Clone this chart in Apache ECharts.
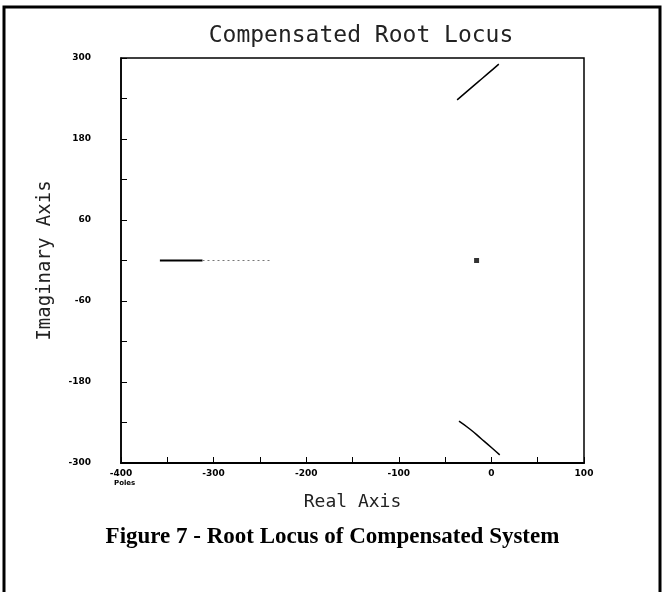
<!DOCTYPE html>
<html>
<head>
<meta charset="utf-8">
<script src="https://cdn.jsdelivr.net/npm/echarts@6/dist/echarts.min.js"></script>
<style>
html,body{margin:0;padding:0;background:#fff;}
#c{width:665px;height:592px;}
</style>
</head>
<body>
<div id="c"></div>
<script>
// ---- data ----
var xTicks = [-400, -300, -200, -100, 0, 100];
var yTicks = [-300, -180, -60, 60, 180, 300];
var realAxisSolid = [[-358, 0], [-312, 0]];
var realAxisDotted = [[-312, 0], [-238, 0]];
var upperBranch = [[-37, 238], [-26, 251], [-14, 265], [-2, 279], [8, 291]];
var lowerBranch = [[-35, -238], [-23, -250], [-11, -264], [0, -277], [9, -288]];
var poleMarker = [[-16, 0]];

var chart = echarts.init(document.getElementById('c'), null, {renderer: 'canvas'});
var tickFont = {fontFamily: 'DejaVu Sans', fontSize: 9, fontWeight: 'bold', color: '#000'};
chart.setOption({
  animation: false,
  backgroundColor: '#fff',
  title: {
    text: 'Compensated Root Locus',
    left: 356, top: 20, textAlign: 'center',
    textStyle: {fontFamily: 'DejaVu Sans Mono', fontSize: 23, fontWeight: 'normal', color: '#222'}
  },
  grid: {left: 121, top: 58, width: 463, height: 405, show: true, borderColor: '#000', borderWidth: 1.5, backgroundColor: 'transparent'},
  xAxis: {
    type: 'value', min: -400, max: 100, interval: 100,
    name: 'Real Axis', nameLocation: 'middle', nameGap: 30,
    nameTextStyle: {fontFamily: 'DejaVu Sans Mono', fontSize: 18, color: '#222'},
    axisLine: {show: true, onZero: false, lineStyle: {color: '#000', width: 2}},
    axisTick: {show: true, inside: true, length: 6, lineStyle: {color: '#000'}},
    minorTick: {show: true, splitNumber: 2, length: 6, lineStyle: {color: '#000'}},
    splitLine: {show: false},
    axisLabel: Object.assign({margin: 6, formatter: function (v) { return xTicks.indexOf(v) >= 0 ? String(v) : ''; }}, tickFont)
  },
  yAxis: {
    type: 'value', min: -300, max: 300, interval: 120,
    name: 'Imaginary Axis', nameLocation: 'middle', nameGap: 66, nameRotate: 90,
    nameTextStyle: {fontFamily: 'DejaVu Sans Mono', fontSize: 19, color: '#222'},
    axisLine: {show: true, onZero: false, lineStyle: {color: '#000', width: 1.5}},
    axisTick: {show: true, inside: true, length: 6, lineStyle: {color: '#000'}},
    minorTick: {show: true, splitNumber: 2, length: 6, lineStyle: {color: '#000'}},
    splitLine: {show: false},
    axisLabel: Object.assign({margin: 30, formatter: function (v) { return yTicks.indexOf(v) >= 0 ? String(v) : ''; }}, tickFont)
  },
  series: [
    {type: 'line', data: realAxisSolid, symbol: 'none', lineStyle: {color: '#000', width: 2}},
    {type: 'line', data: realAxisDotted, symbol: 'none', lineStyle: {color: '#777', width: 1, type: [2, 3]}},
    {type: 'line', data: upperBranch, symbol: 'none', smooth: true, lineStyle: {color: '#000', width: 1.5}},
    {type: 'line', data: lowerBranch, symbol: 'none', smooth: true, lineStyle: {color: '#000', width: 1.5}},
    {type: 'scatter', data: poleMarker, symbol: 'rect', symbolSize: 5, itemStyle: {color: '#000'}}
  ],
  graphic: [
    {type: 'rect', shape: {x: 4, y: 7, width: 656, height: 600}, style: {fill: 'none', stroke: '#000', lineWidth: 3}},
    {type: 'text', left: 114, top: 480, style: {text: 'Poles', font: 'bold 7px DejaVu Sans', fill: '#000'}},
    {type: 'text', left: 'center', top: 526, style: {text: 'Figure 7 - Root Locus of Compensated System', font: 'bold 23px "Liberation Serif"', fill: '#000', textAlign: 'center'}}
  ]
});
</script>
</body>
</html>
